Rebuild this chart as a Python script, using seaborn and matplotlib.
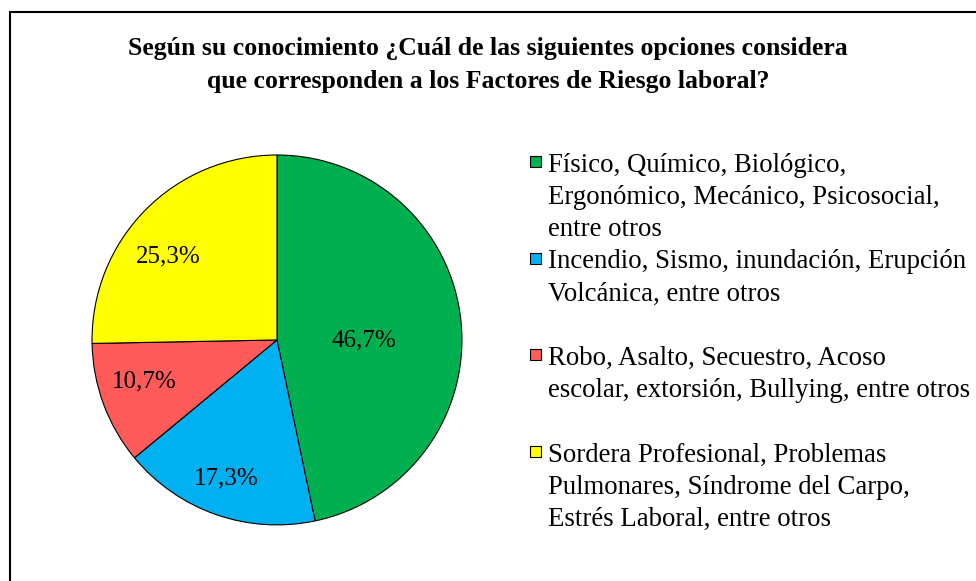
import matplotlib
matplotlib.use("Agg")
import numpy as np
import matplotlib.pyplot as plt
import seaborn as sns
from matplotlib.patches import Rectangle, Wedge
from matplotlib.legend_handler import HandlerPatch

# datos del grafico
categorias = [
    "Físico, Químico, Biológico,\nErgonómico, Mecánico, Psicosocial,\nentre otros",
    "Incendio, Sismo, inundación, Erupción\nVolcánica, entre otros\n",
    "Robo, Asalto, Secuestro, Acoso\nescolar, extorsión, Bullying, entre otros\n",
    "Sordera Profesional, Problemas\nPulmonares, Síndrome del Carpo,\nEstrés Laboral, entre otros",
]
porcentajes = [46.7, 17.3, 10.7, 25.3]
colores = ["#00B050", "#00B0F0", "#FF5B5B", "#FFFF00"]
titulo = ("Según su conocimiento ¿Cuál de las siguientes opciones considera\n"
          "que corresponden a los Factores de Riesgo laboral?")

# ubicacion de las etiquetas (distancia al centro y giro en grados)
dist_etiq = [0.47, 0.80, 0.75, 0.74]
giro_etiq = [-6, -1, -3, 7]

sns.set_theme(style="white")
plt.rcParams["font.family"] = ["Liberation Serif", "DejaVu Serif"]
plt.rcParams["text.color"] = "black"
SERIF = ["Liberation Serif", "DejaVu Serif"]

fig = plt.figure(figsize=(9.76, 5.81), dpi=100)
fig.patch.set_facecolor("white")

# marco del grafico
fig.patches.append(Rectangle((10 / 976, -0.05), 1.1, 1 - 12 / 581 + 0.05,
                             transform=fig.transFigure, fill=False,
                             edgecolor="black", linewidth=1.5))

ax = fig.add_axes([0.0943, 0.0964, 0.379, 0.637])
wedges, textos, autotextos = ax.pie(
    porcentajes, colors=colores, startangle=90, counterclock=False,
    autopct=lambda p: f"{p:.1f}%".replace(".", ","),
    wedgeprops=dict(edgecolor="black", linewidth=0.8),
    textprops=dict(fontsize=18, color="black", family=SERIF))
ax.set_xlim(-1, 1)
ax.set_ylim(-1, 1)
ax.set_aspect("equal")

for w, t, d, g in zip(wedges, autotextos, dist_etiq, giro_etiq):
    ang = np.deg2rad((w.theta1 + w.theta2) / 2 + g)
    t.set_position((d * np.cos(ang), d * np.sin(ang)))

fig.text(0.5, 1 - 65 / 581, titulo, ha="center", va="center",
         fontsize=18.5, fontweight="bold", family=SERIF, linespacing=1.55)


def cuadro(legend, orig_handle, xdescent, ydescent, width, height, fontsize):
    lado = width
    return Rectangle((-xdescent, -ydescent + height - 0.12 * fontsize - lado),
                     lado, lado)


leg = fig.legend(wedges, categorias, loc="upper left",
                 bbox_to_anchor=(530 / 976, 1 - 153 / 581),
                 frameon=False, prop=dict(family=SERIF, size=19.3),
                 handlelength=0.42, handleheight=0.75, handletextpad=0.27,
                 labelspacing=0.27, borderaxespad=0, borderpad=0,
                 handler_map={Wedge: HandlerPatch(patch_func=cuadro)})
for t in leg.get_texts():
    t.set_linespacing(1.375)
    t.set_color("black")
for col in leg._legend_handle_box.get_children():
    for item in col.get_children():
        item.align = "top"

fig.savefig("out.png", dpi=100)
